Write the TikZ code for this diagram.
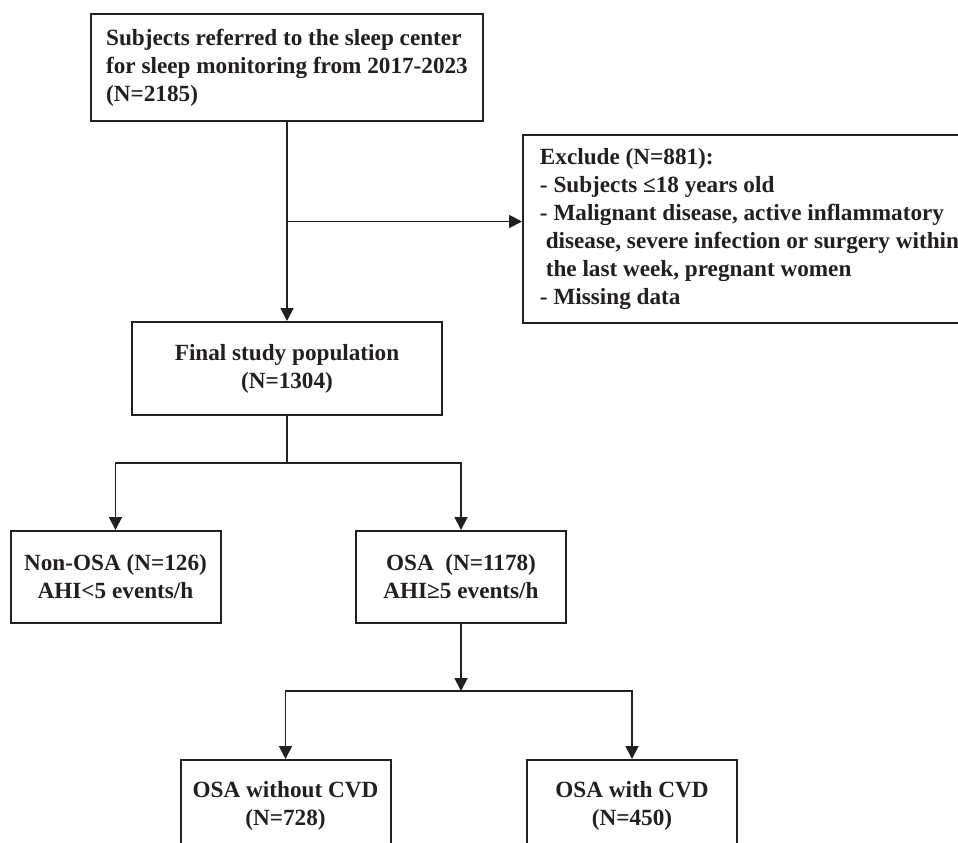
\documentclass[tikz,border=0pt]{standalone}
\usepackage{fontspec}
\setmainfont{Liberation Serif}
\usepackage{xcolor}
\usetikzlibrary{arrows.meta,positioning,calc}
\definecolor{ink}{RGB}{35,31,32}

\begin{document}
\begin{tikzpicture}[
  every node/.style={font=\fontsize{11.6}{14}\selectfont\bfseries, text=ink},
  flowbox/.style={draw=ink, line width=1pt, inner sep=0pt, align=center},
  grpbox/.style={flowbox, minimum width=105pt, minimum height=46pt},
  arr/.style={-{Triangle[length=6.5pt,width=6.5pt]}, line width=0.9pt, draw=ink},
  plain/.style={line width=0.9pt, draw=ink},
]
\clip (0,0) rectangle (479pt,-421pt);

%% ---- row 0: referred subjects ----
\node[flowbox, align=left, minimum width=196pt, minimum height=53.5pt]
  (src) at (143.5pt,-33.75pt)
  {Subjects referred to the sleep center\\
   for sleep monitoring from 2017-2023\\
   (N=2185)};

%% ---- exclusion box (right) ----
\node[flowbox, align=left, minimum width=226.5pt, minimum height=94pt,
      below right=6pt and 19pt of src] (excl)
  {Exclude (N=881):\\
   - Subjects ≤18 years old\\
   - Malignant disease, active inflammatory\\
   \hspace*{0.25em}disease, severe infection or surgery within\\
   \hspace*{0.25em}the last week, pregnant women\\
   - Missing data};

%% ---- row 1: final population ----
\node[flowbox, minimum width=155pt, minimum height=46.5pt,
      below=99.5pt of src] (final)
  {Final study population\\(N=1304)};

%% ---- row 2: AHI groups ----
\node[grpbox, below=57pt of final, xshift=-85.75pt] (nonosa)
  {Non-OSA (N=126)\\AHI<5 events/h};
\node[grpbox, below=57pt of final, xshift=87pt] (osa)
  {OSA\ \ (N=1178)\\AHI≥5 events/h};

%% ---- row 3: CVD split ----
\node[grpbox, below=67.5pt of osa, xshift=-87.75pt] (nocvd)
  {OSA without CVD\\(N=728)};
\node[grpbox, below=67.5pt of osa, xshift=85.5pt] (withcvd)
  {OSA with CVD\\(N=450)};

%% ---- arrows ----
\coordinate (split1) at ($(src.south)!0.5!(final.north)$);
\draw[arr] (src) -- (final);
\draw[arr] (split1) -- (split1 -| excl.west);
\draw[plain] (final.south) -- ++(0,-23.5pt) coordinate (split2);
\draw[arr] (split2) -| (nonosa.north);
\draw[arr] (split2) -| (osa.north);
\draw[arr] (osa.south) -- ++(0,-33.5pt) coordinate (split3);
\draw[arr] (split3) -| (nocvd.north);
\draw[arr] (split3) -| (withcvd.north);
\end{tikzpicture}
\end{document}
